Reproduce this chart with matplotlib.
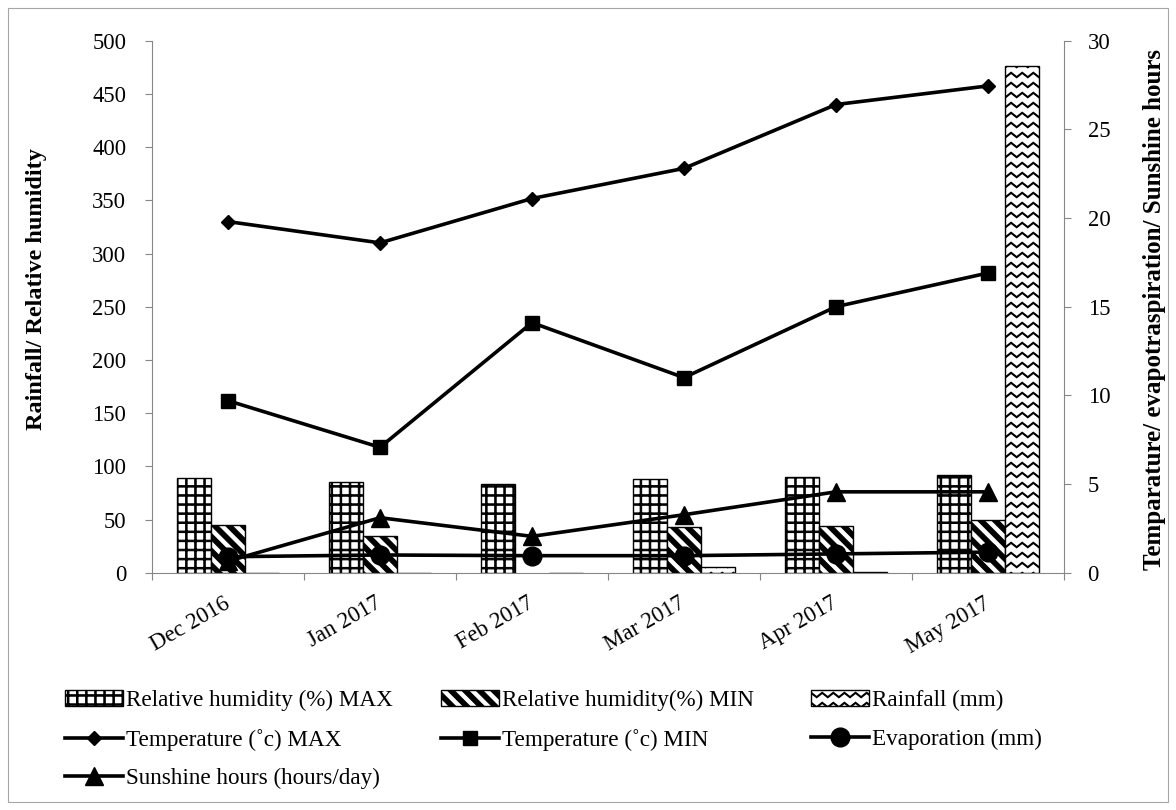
import numpy as np
import matplotlib
matplotlib.use("Agg")
import matplotlib.pyplot as plt
import matplotlib.hatch as mhatch
from matplotlib.path import Path
from matplotlib.lines import Line2D
from matplotlib.patches import Patch, Rectangle

# ---------------- data ----------------
months = ["Dec 2016", "Jan 2017", "Feb 2017", "Mar 2017", "Apr 2017", "May 2017"]
rh_max = [89.3, 85.6, 83.7, 88.4, 89.5, 91.5]
rh_min = [44.6, 34.5, np.nan, 43.3, 43.6, 49.6]
rainfall = [0, 0, 0, 5, 1, 476]
temp_max = [19.8, 18.6, 21.1, 22.8, 26.4, 27.45]
temp_min = [9.7, 7.07, 14.1, 11.0, 15.0, 16.9]
evaporation = [0.9, 1.0, 0.96, 0.96, 1.06, 1.16]
sunshine = [0.65, 3.1, 2.05, 3.27, 4.56, 4.56]

labels_bar = ["Relative humidity (%) MAX", "Relative humidity(%) MIN", "Rainfall (mm)"]
labels_line = ["Temperature (\u02dac) MAX", "Temperature (\u02dac) MIN",
               "Evaporation (mm)", "Sunshine hours (hours/day)"]
left_label = "Rainfall/ Relative humidity"
right_label = "Temparature/ evapotraspiration/ Sunshine hours"


# ---------------- custom hatch patterns ----------------
def _poly(verts, codes, pts):
    verts += list(pts) + [pts[0]]
    codes += [Path.MOVETO] + [Path.LINETO] * (len(pts) - 1) + [Path.CLOSEPOLY]


def custom_hatch_path(hatchpattern, density=6):
    verts, codes = [], []
    if hatchpattern is None:
        return None
    if "+" in hatchpattern:          # dense grid
        n, w = 11, 0.007
        for i in range(n):
            c = (i + 0.5) / n
            _poly(verts, codes, [(0, c - w), (1, c - w), (1, c + w), (0, c + w)])
            _poly(verts, codes, [(c - w, 0), (c + w, 0), (c + w, 1), (c - w, 1)])
    if "\\" in hatchpattern:         # thick diagonal stripes
        n, bw = 7, 0.065
        for k in range(-n - 1, n + 2):
            s = k / n
            _poly(verts, codes, [(s, 1), (s + 1, 0), (s + 1 + bw, 0), (s + bw, 1)])
    if "o" in hatchpattern:          # zigzag waves
        R, P, a, t = 10, 9, 0.022, 0.012
        for j in range(R):
            y0 = (j + 0.5) / R
            xs = np.arange(2 * P + 1) / (2 * P)
            ys = y0 + np.where(np.arange(2 * P + 1) % 2 == 0, a, -a)
            upper = list(zip(xs, ys + t / 2))
            lower = list(zip(xs[::-1], (ys - t / 2)[::-1]))
            _poly(verts, codes, upper + lower)
    if not verts:
        return Path(np.empty((0, 2)))
    return Path(np.array(verts, float), np.array(codes, Path.code_type))


mhatch.get_path = custom_hatch_path

plt.rcParams["font.family"] = ["Liberation Serif", "DejaVu Serif"]
plt.rcParams["hatch.linewidth"] = 0.8
plt.rcParams["hatch.color"] = "black"

W, H = 1176, 810
fig = plt.figure(figsize=(W / 100, H / 100), dpi=100)
x0, x1, y0, y1 = 152, 1064, 40.7, 572.7
ax = fig.add_axes([x0 / W, 1 - y1 / H, (x1 - x0) / W, (y1 - y0) / H])

grey = "#868686"
x = np.arange(len(months))
bw = 0.224
hatches = ["+", "\\", "o"]
series_bar = [rh_max, rh_min, rainfall]
offsets = [-bw, 0, bw]
for vals, h, off, lab in zip(series_bar, hatches, offsets, labels_bar):
    ax.bar(x + off, vals, bw, color="white", edgecolor="black", hatch=h,
           linewidth=1.0, label=lab, zorder=2)

ax.set_xlim(-0.5, len(months) - 0.5)
ax.set_ylim(0, 500)
ax.set_yticks(np.arange(0, 501, 50))
ax.set_xticks(np.arange(-0.5, len(months), 1.0))
ax.set_xticklabels([])
ax.set_xticks(x, minor=True)
ax.set_xticklabels(months, minor=True, rotation=30, ha="right", va="center",
                   rotation_mode="anchor", fontsize=16.5)
ax.tick_params(axis="x", which="minor", length=0, pad=21)
ax.tick_params(axis="x", which="major", length=5, color=grey, direction="out")
ax.tick_params(axis="y", length=5, color=grey, direction="out", pad=13.5, labelsize=16.3)
for side in ["left", "bottom"]:
    ax.spines[side].set_color(grey)
ax.spines["top"].set_visible(False)
ax.spines["right"].set_visible(False)

ax2 = ax.twinx()
ax2.set_ylim(0, 30)
ax2.set_yticks(np.arange(0, 31, 5))
ax2.tick_params(axis="y", length=5, color=grey, direction="out", pad=12, labelsize=16.3)
for side in ["left", "bottom", "top"]:
    ax2.spines[side].set_visible(False)
ax2.spines["right"].set_color(grey)

line_series = [temp_max, temp_min, evaporation, sunshine]
markers = ["D", "s", "o", "^"]
msizes = [7, 9.5, 13.5, 13.5]
line_handles = []
for vals, m, ms, lab in zip(line_series, markers, msizes, labels_line):
    ln, = ax2.plot(x, vals, color="black", lw=2.6, marker=m, ms=ms,
                   markerfacecolor="black", markeredgecolor="black", label=lab,
                   zorder=3)
    line_handles.append(ln)

bar_handles = [Patch(facecolor="white", edgecolor="black", hatch=h, linewidth=1.0)
               for h in hatches]

# legend: three columns placed explicitly
cols = [
    (65, [bar_handles[0], line_handles[0], line_handles[3]],
     [labels_bar[0], labels_line[0], labels_line[3]]),
    (441, [bar_handles[1], line_handles[1]], [labels_bar[1], labels_line[1]]),
    (811, [bar_handles[2], line_handles[2]], [labels_bar[2], labels_line[2]]),
]
for lx, hs, ls in cols:
    fig.legend(hs, ls, loc="upper left", bbox_to_anchor=(lx / W, 1 - 690 / H),
               frameon=False, borderpad=0, borderaxespad=0, handlelength=2.5,
               handleheight=0.65, handletextpad=0.13, labelspacing=0.75,
               fontsize=16.7)

fig.text(37 / W, 1 - 289 / H, left_label, rotation=90, ha="center", va="center",
         fontsize=17.5, fontweight="bold")
fig.text(1155 / W, 1 - 309 / H, right_label, rotation=90, ha="center", va="center",
         fontsize=18, fontweight="bold")

fig.add_artist(Rectangle((8 / W, 8 / H), 1160 / W, 794 / H, transform=fig.transFigure,
                         fill=False, edgecolor="#a6a6a6", linewidth=0.8))

fig.savefig("out.png", dpi=100)
